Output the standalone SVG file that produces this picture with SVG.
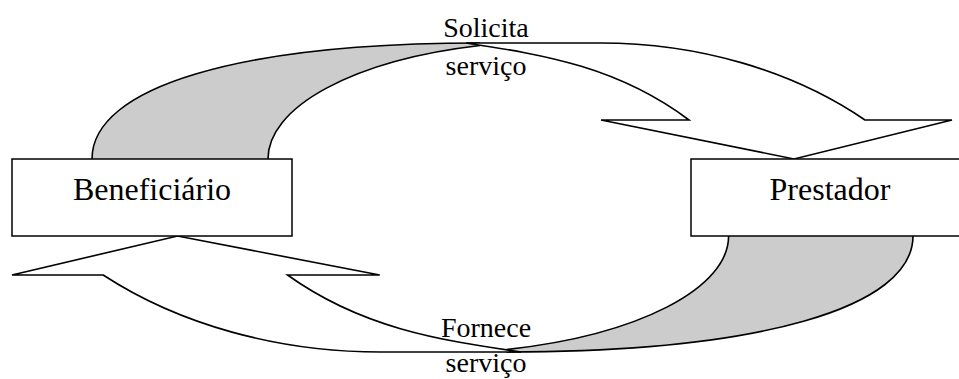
<svg xmlns="http://www.w3.org/2000/svg" width="959" height="379" viewBox="0 0 959 379">
  <style>
    .back { fill: #cccccc; stroke: none; }
    .edge { fill: none; stroke: #000; stroke-width: 1.6; vector-effect: non-scaling-stroke; }
    .front { fill: #ffffff; stroke: #000; stroke-width: 1.6; stroke-linejoin: miter; vector-effect: non-scaling-stroke; }
    .box { fill: #ffffff; stroke: #000; stroke-width: 1.5; }
    .node-label { font-family: "Liberation Serif", "Times New Roman", serif; font-size: 32px; fill: #000; text-anchor: middle; }
    .edge-label { font-family: "Liberation Serif", "Times New Roman", serif; font-size: 28px; fill: #000; text-anchor: middle; }
  </style>
  <defs>
    <g id="curvedArrow">
      <path class="back" d="M92,159 C92,87 239,43 480,43 L480,45.5 A292,118 0 0,0 268,159 Z"/>
      <path class="edge" d="M92,159 C92,87 239,43 480,43"/>
      <path class="edge" d="M268,159 A292,118 0 0,1 480,45.5"/>
      <path class="front" d="M466,43 L600,43 A394,297 0 0,1 865,120 L952,120 L794,159 L601,120 L689,120 C619,67.5 546,55 466,43 Z"/>
    </g>
  </defs>
  <rect width="959" height="379" fill="#ffffff"/>
  <g id="connectors">
    <g id="arrow-solicita">
      <use href="#curvedArrow"/>
    </g>
    <g id="arrow-fornece">
      <use href="#curvedArrow" transform="matrix(-1.04767 0 0 -1 1009.39 395)"/>
    </g>
  </g>
  <g id="beneficiario">
    <rect class="box" x="12" y="159" width="280" height="77"/>
    <text class="node-label" x="152" y="200">Beneficiário</text>
  </g>
  <g id="prestador">
    <rect class="box" x="691" y="159" width="278" height="77"/>
    <text class="node-label" x="830" y="200">Prestador</text>
  </g>
  <g id="label-solicita">
    <text class="edge-label" x="486" y="37">Solicita</text>
    <text class="edge-label" x="486" y="75">serviço</text>
  </g>
  <g id="label-fornece">
    <text class="edge-label" x="486" y="337">Fornece</text>
    <text class="edge-label" x="486" y="372">serviço</text>
  </g>
</svg>
